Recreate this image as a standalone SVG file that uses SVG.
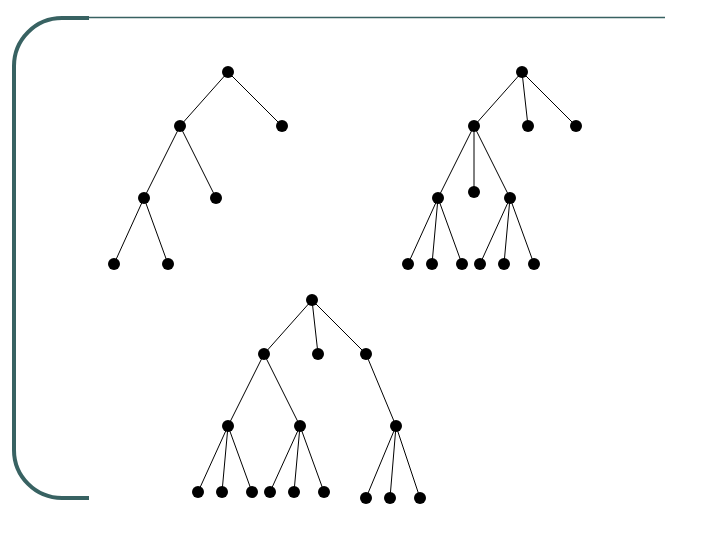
<svg xmlns="http://www.w3.org/2000/svg" width="720" height="540" viewBox="0 0 720 540">
<style>
.frame{fill:none;stroke:#386262;stroke-width:4}
.thin{fill:none;stroke:#386262;stroke-width:1.5}
.e line{stroke:#000;stroke-width:1}
.n{fill:#000}
</style>
<rect width="720" height="540" fill="#fff"/>
<path class="frame" d="M89,18 H62 A48,48 0 0 0 14,66 V450 A48,48 0 0 0 62,498 H89"/>
<line class="thin" x1="88" y1="17.5" x2="665" y2="17.5"/>
<g id="connectors" class="e">
<line x1="228" y1="72" x2="180" y2="126"/><line x1="228" y1="72" x2="282" y2="126"/>
<line x1="180" y1="126" x2="144" y2="198"/><line x1="180" y1="126" x2="216" y2="198"/>
<line x1="144" y1="198" x2="114" y2="264"/><line x1="144" y1="198" x2="168" y2="264"/>
<line x1="522" y1="72" x2="474" y2="126"/><line x1="522" y1="72" x2="528" y2="126"/><line x1="522" y1="72" x2="576" y2="126"/>
<line x1="474" y1="126" x2="438" y2="198"/><line x1="474" y1="126" x2="474" y2="192"/><line x1="474" y1="126" x2="510" y2="198"/>
<line x1="438" y1="198" x2="408" y2="264"/><line x1="438" y1="198" x2="432" y2="264"/><line x1="438" y1="198" x2="462" y2="264"/>
<line x1="510" y1="198" x2="480" y2="264"/><line x1="510" y1="198" x2="504" y2="264"/><line x1="510" y1="198" x2="534" y2="264"/>
<line x1="312" y1="300" x2="264" y2="354"/><line x1="312" y1="300" x2="318" y2="354"/><line x1="312" y1="300" x2="366" y2="354"/>
<line x1="264" y1="354" x2="228" y2="426"/><line x1="264" y1="354" x2="300" y2="426"/>
<line x1="228" y1="426" x2="198" y2="492"/><line x1="228" y1="426" x2="222" y2="492"/><line x1="228" y1="426" x2="252" y2="492"/>
<line x1="300" y1="426" x2="270" y2="492"/><line x1="300" y1="426" x2="294" y2="492"/><line x1="300" y1="426" x2="324" y2="492"/>
<line x1="366" y1="354" x2="396" y2="426"/>
<line x1="396" y1="426" x2="366" y2="498"/><line x1="396" y1="426" x2="390" y2="498"/><line x1="396" y1="426" x2="420" y2="498"/>
</g>
<g id="t1a"><circle class="n" cx="228" cy="72" r="6"/></g>
<g id="t1b"><circle class="n" cx="180" cy="126" r="6"/></g>
<g id="t1c"><circle class="n" cx="282" cy="126" r="6"/></g>
<g id="t1d"><circle class="n" cx="144" cy="198" r="6"/></g>
<g id="t1e"><circle class="n" cx="216" cy="198" r="6"/></g>
<g id="t1f"><circle class="n" cx="114" cy="264" r="6"/></g>
<g id="t1g"><circle class="n" cx="168" cy="264" r="6"/></g>
<g id="t2a"><circle class="n" cx="522" cy="72" r="6"/></g>
<g id="t2b"><circle class="n" cx="474" cy="126" r="6"/></g>
<g id="t2c"><circle class="n" cx="528" cy="126" r="6"/></g>
<g id="t2d"><circle class="n" cx="576" cy="126" r="6"/></g>
<g id="t2e"><circle class="n" cx="438" cy="198" r="6"/></g>
<g id="t2f"><circle class="n" cx="474" cy="192" r="6"/></g>
<g id="t2g"><circle class="n" cx="510" cy="198" r="6"/></g>
<g id="t2h"><circle class="n" cx="408" cy="264" r="6"/></g>
<g id="t2i"><circle class="n" cx="432" cy="264" r="6"/></g>
<g id="t2j"><circle class="n" cx="462" cy="264" r="6"/></g>
<g id="t2k"><circle class="n" cx="480" cy="264" r="6"/></g>
<g id="t2l"><circle class="n" cx="504" cy="264" r="6"/></g>
<g id="t2m"><circle class="n" cx="534" cy="264" r="6"/></g>
<g id="t3a"><circle class="n" cx="312" cy="300" r="6"/></g>
<g id="t3b"><circle class="n" cx="264" cy="354" r="6"/></g>
<g id="t3c"><circle class="n" cx="318" cy="354" r="6"/></g>
<g id="t3d"><circle class="n" cx="366" cy="354" r="6"/></g>
<g id="t3e"><circle class="n" cx="228" cy="426" r="6"/></g>
<g id="t3f"><circle class="n" cx="300" cy="426" r="6"/></g>
<g id="t3g"><circle class="n" cx="396" cy="426" r="6"/></g>
<g id="t3h"><circle class="n" cx="198" cy="492" r="6"/></g>
<g id="t3i"><circle class="n" cx="222" cy="492" r="6"/></g>
<g id="t3j"><circle class="n" cx="252" cy="492" r="6"/></g>
<g id="t3k"><circle class="n" cx="270" cy="492" r="6"/></g>
<g id="t3l"><circle class="n" cx="294" cy="492" r="6"/></g>
<g id="t3m"><circle class="n" cx="324" cy="492" r="6"/></g>
<g id="t3n"><circle class="n" cx="366" cy="498" r="6"/></g>
<g id="t3o"><circle class="n" cx="390" cy="498" r="6"/></g>
<g id="t3p"><circle class="n" cx="420" cy="498" r="6"/></g>
</svg>
